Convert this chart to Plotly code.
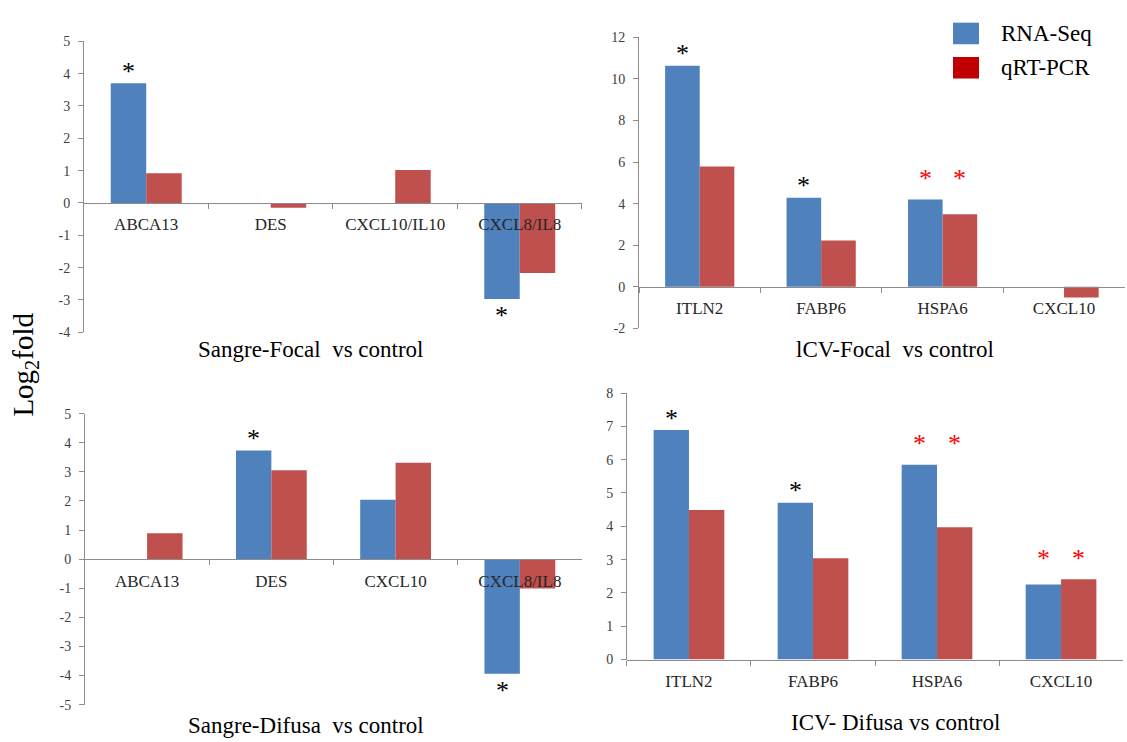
import plotly.graph_objects as go

# ---------------- data ----------------
tl_cats = ["ABCA13", "DES", "CXCL10/IL10", "CXCL8/IL8"]
tl_rna = [3.70, 0.0, 0.0, -2.97]
tl_pcr = [0.92, -0.15, 1.02, -2.17]

tr_cats = ["ITLN2", "FABP6", "HSPA6", "CXCL10"]
tr_rna = [10.64, 4.28, 4.20, 0.0]
tr_pcr = [5.79, 2.23, 3.49, -0.52]

bl_cats = ["ABCA13", "DES", "CXCL10", "CXCL8/IL8"]
bl_rna = [0.0, 3.73, 2.04, -3.94]
bl_pcr = [0.89, 3.05, 3.31, -1.01]

br_cats = ["ITLN2", "FABP6", "HSPA6", "CXCL10"]
br_rna = [6.89, 4.71, 5.85, 2.25]
br_pcr = [4.49, 3.04, 3.97, 2.41]

titles = ["Sangre-Focal\u00a0\u00a0vs control", "lCV-Focal\u00a0\u00a0vs control",
          "Sangre-Difusa\u00a0\u00a0vs control", "ICV- Difusa vs control"]

# significance stars: (panel, category index, series, colour)
stars = [
    (0, 0, "rna", "black"), (0, 3, "rna", "black"),
    (1, 0, "rna", "black"), (1, 1, "rna", "black"),
    (1, 2, "rna", "red"), (1, 2, "pcr", "red"),
    (2, 1, "rna", "black"), (2, 3, "rna", "black"),
    (3, 0, "rna", "black"), (3, 1, "rna", "black"),
    (3, 2, "rna", "red"), (3, 2, "pcr", "red"),
    (3, 3, "rna", "red"), (3, 3, "pcr", "red"),
]

series_names = ["RNA-Seq", "qRT-PCR"]

# ---------------- style ----------------
BLUE = "#4F81BD"
RED = "#C0504D"
LEG_RED = "#C00000"
AXC = "#8C8C8C"
FONT = "Liberation Serif"
BARGAP = 0.43

panels = [
    dict(cats=tl_cats, rna=tl_rna, pcr=tl_pcr, xd=[0.0745, 0.5164], yd=[0.5526, 0.9528], yr=[-4, 5], dt=1),
    dict(cats=tr_cats, rna=tr_rna, pcr=tr_pcr, xd=[0.567, 0.998], yd=[0.558, 0.9582], yr=[-2, 12], dt=2),
    dict(cats=bl_cats, rna=bl_rna, pcr=bl_pcr, xd=[0.0754, 0.5164], yd=[0.0404, 0.4407], yr=[-5, 5], dt=1),
    dict(cats=br_cats, rna=br_rna, pcr=br_pcr, xd=[0.5563, 0.9965], yd=[0.1024, 0.469], yr=[0, 8], dt=1),
]

fig = go.Figure()
layout = {}
annotations = []

for i, p in enumerate(panels):
    n = "" if i == 0 else str(i + 1)
    xa, ya = "x" + n, "y" + n
    fig.add_trace(go.Bar(x=p["cats"], y=p["rna"], name=series_names[0], marker=dict(color=BLUE, line=dict(width=0)),
                         xaxis=xa, yaxis=ya, showlegend=False))
    fig.add_trace(go.Bar(x=p["cats"], y=p["pcr"], name=series_names[1], marker=dict(color=RED, line=dict(width=0)),
                         xaxis=xa, yaxis=ya, showlegend=False))
    r0, r1 = p["yr"]
    d0, d1 = p["yd"]
    zero_pos = d0 + (0 - r0) / (r1 - r0) * (d1 - d0)
    tv = list(range(r0, r1 + 1, p["dt"]))
    layout["xaxis" + n] = dict(domain=p["xd"], anchor="free", position=zero_pos, type="category",
                               range=[-0.5, 3.5], showline=True, linecolor=AXC, linewidth=1,
                               ticks="outside", tickson="boundaries", ticklen=5, tickcolor=AXC,
                               ticklabelstandoff=6,
                               tickfont=dict(family=FONT, size=17, color="#262626"), showgrid=False,
                               fixedrange=True)
    layout["yaxis" + n] = dict(domain=p["yd"], anchor=xa, range=p["yr"], tickvals=tv,
                               ticktext=[str(v) for v in tv], showline=True,
                               linecolor=AXC, linewidth=1, ticks="outside", ticklen=5, tickcolor=AXC,
                               ticklabelstandoff=5,
                               tickfont=dict(family=FONT, size=14, color="#404040"), showgrid=False,
                               zeroline=False, fixedrange=True)
    # panel title
    annotations.append(dict(text=titles[i], xref="paper", yref="paper",
                            x=[310 / 1127, 895 / 1127, 306 / 1127, 895 / 1127][i],
                            y=[1 - 350 / 742, 1 - 350 / 742, 1 - 733 / 742, 1 - 730 / 742][i],
                            showarrow=False, font=dict(family=FONT, size=23, color="black"),
                            xanchor="center", yanchor="middle"))

# stars
off = (1 - BARGAP) / 4
for (pi, ci, s, col) in stars:
    p = panels[pi]
    n = "" if pi == 0 else str(pi + 1)
    vals = [p["rna"][ci], p["pcr"][ci]]
    if col == "red":
        base = max(vals) if max(vals) > 0 else min(vals)
        shift = 21
    else:
        base = p["rna"][ci] if s == "rna" else p["pcr"][ci]
        shift = 12 if base >= 0 else -15
    xpos = ci - off if s == "rna" else ci + off
    annotations.append(dict(text="*", x=xpos, y=base, xref="x" + n, yref="y" + n, showarrow=False,
                            yshift=shift if base >= 0 else -abs(shift) - 2, xanchor="center", yanchor="middle",
                            font=dict(family=FONT, size=26, color="black" if col == "black" else "#FF0000")))

# y title
annotations.append(dict(text="Log<sub>2</sub>fold", xref="paper", yref="paper", x=25 / 1127, y=1 - 365 / 742,
                        showarrow=False, textangle=-90, font=dict(family=FONT, size=29, color="black"),
                        xanchor="center", yanchor="middle"))

# legend (drawn manually to match square swatches)
shapes = []
for k, (name, col, yc) in enumerate([(series_names[0], BLUE, 27), (series_names[1], LEG_RED, 62)]):
    shapes.append(dict(type="rect", xref="paper", yref="paper", x0=953 / 1127, x1=979 / 1127,
                       y0=1 - (yc + 11) / 742, y1=1 - (yc - 11) / 742, fillcolor=col,
                       line=dict(width=0)))
    annotations.append(dict(text=name, xref="paper", yref="paper", x=999 / 1127, y=1 - yc / 742,
                            showarrow=False, xanchor="left", yanchor="middle",
                            font=dict(family=FONT, size=23, color="black")))

fig.update_layout(width=1127, height=742, margin=dict(l=0, r=0, t=0, b=0), paper_bgcolor="white",
                  plot_bgcolor="white", barmode="group", bargap=BARGAP, bargroupgap=0, showlegend=False,
                  annotations=annotations, shapes=shapes, **layout)

fig.write_html("out.html")
